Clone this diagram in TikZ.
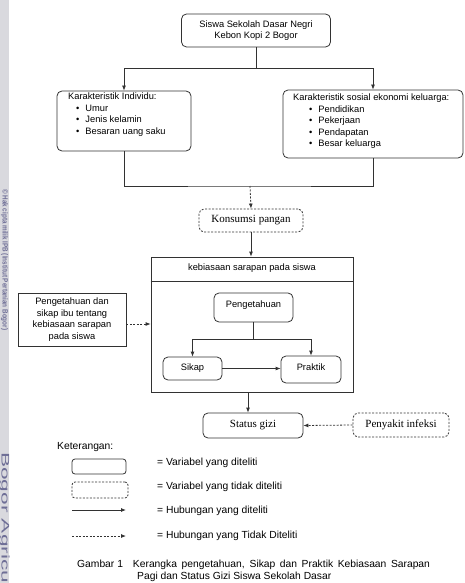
\documentclass[tikz,border=0pt]{standalone}
\usepackage{fontspec}
\setmainfont{Liberation Sans}
\newfontfamily\timesfont{Liberation Serif}
\usepackage{tikz}
\usetikzlibrary{arrows.meta}
\definecolor{wmgrey}{RGB}{217,217,222}
\definecolor{wmtext}{RGB}{110,110,150}
\definecolor{ink}{RGB}{50,50,50}

\begin{document}
\begin{tikzpicture}[x=1pt,y=-1pt,
  every node/.style={font=\fontsize{9.3}{11.5}\selectfont},
  var/.style={draw=ink,line width=0.8pt,rounded corners=5pt,inner sep=0pt},
  novar/.style={var,dash pattern=on 2pt off 1.5pt},
  plain/.style={draw=ink,line width=0.8pt,inner sep=0pt},
  rel/.style={draw=ink,line width=0.8pt,-{Latex[length=5pt,width=4pt]}},
  norel/.style={rel,dash pattern=on 2pt off 1.5pt},
  legend/.style={anchor=west,inner sep=0pt,font=\fontsize{10.3}{12}\selectfont}]
\useasboundingbox (0,0) rectangle (464,583);
\fill[wmgrey] (0,0) rectangle (9,583);
\node[rotate=-90,anchor=west,inner sep=0pt,text=wmtext,font=\bfseries] (wmA) at (4.5,189) {\resizebox{141pt}{5.5pt}{\textcopyright\ Hak cipta milik IPB (Institut Pertanian Bogor)}};
\node[rotate=-90,anchor=west,inner sep=0pt,text=wmtext] (wmB) at (4.5,452) {\resizebox{131pt}{8pt}{Bogor Agricu}};

\node[var,minimum width=149,minimum height=33,align=center] (siswa) at (256,30.5) {Siswa Sekolah Dasar Negri\\Kebon Kopi 2 Bogor};
\node[var,minimum width=134,minimum height=60] (indiv) at (124,121) {};
\node[anchor=north west,inner sep=0pt,align=left] (indivtxt) at (68,93) {Karakteristik Individu:\\
  \hspace{8pt}\textbullet\hspace{6pt}Umur\\
  \hspace{8pt}\textbullet\hspace{6pt}Jenis kelamin\\
  \hspace{8pt}\textbullet\hspace{6pt}Besaran uang saku};
\node[var,minimum width=180,minimum height=68] (sosial) at (373,124) {};
\node[anchor=north west,inner sep=0pt,align=left] (sosialtxt) at (293,94) {Karakteristik sosial ekonomi keluarga:\\
  \hspace{16pt}\textbullet\hspace{6pt}Pendidikan\\
  \hspace{16pt}\textbullet\hspace{6pt}Pekerjaan\\
  \hspace{16pt}\textbullet\hspace{6pt}Pendapatan\\
  \hspace{16pt}\textbullet\hspace{6pt}Besar keluarga};

\draw[rel] (siswa.south) -- ++(0,21.5) -| (indiv.north);
\draw[rel] (siswa.south) -- ++(0,21.5) -| (sosial.north);
\coordinate (join) at (250,186);
\draw[draw=ink,line width=0.8pt] (indiv.south) |- (join) -| (sosial.south);

\node[novar,minimum width=104,minimum height=23,font=\timesfont\fontsize{11}{12}\selectfont] (konsumsi) at (251,220.5) {Konsumsi pangan};
\draw[norel] (join) -- (konsumsi.north);

\node[plain,minimum width=202,minimum height=135] (kebiasaan) at (252,324.5) {};
\draw[draw=ink,line width=0.8pt] ([yshift=-25]kebiasaan.north west) -- ([yshift=-25]kebiasaan.north east);
\node (kebiasaantxt) at (252,268.5) {kebiasaan sarapan pada siswa};
\draw[rel] (konsumsi.south) -- (kebiasaan.north -| konsumsi.south);

\node[plain,minimum width=108,minimum height=53,align=center] (ibu) at (72,319.5) {Pengetahuan dan\\sikap ibu tentang\\kebiasaan sarapan\\pada siswa};
\draw[norel] ([yshift=-4.5]ibu.east) -- ([yshift=-4.5]ibu.east -| kebiasaan.west);

\node[var,minimum width=79,minimum height=29,text depth=6pt] (peng) at (253.5,307.5) {Pengetahuan};
\node[var,minimum width=59,minimum height=23,text depth=3pt] (sikap) at (192.5,368.5) {Sikap};
\node[var,minimum width=60,minimum height=27,text depth=4pt] (praktik) at (311,369.5) {Praktik};
\draw[rel] (peng.south) -- ++(0,17) -| (sikap.north);
\draw[rel] (peng.south) -- ++(0,17) -| (praktik.north);
\draw[rel] (sikap.east) -- (sikap.east -| praktik.west);

\node[var,minimum width=100,minimum height=25,font=\timesfont\fontsize{11}{12}\selectfont] (status) at (253,425.5) {Status gizi};
\node[novar,minimum width=96,minimum height=24,font=\timesfont\fontsize{11}{12}\selectfont] (infeksi) at (401,425) {Penyakit infeksi};
\draw[rel] (kebiasaan.south -| 248,0) -- (status.north -| 248,0);
\draw[norel] (infeksi.west) -- (status.east);

\node[legend] (ket) at (57,447) {Keterangan:};
\node[var,rounded corners=3pt,minimum width=54,minimum height=15] (lgvar) at (99,466.5) {};
\node[novar,rounded corners=3pt,minimum width=56,minimum height=16] (lgnovar) at (100,490) {};
\coordinate (lgrelA) at (72,510);
\coordinate (lgrelB) at (126,510);
\coordinate (lgnorelA) at (72,536);
\coordinate (lgnorelB) at (126,536);
\draw[rel] (lgrelA) -- (lgrelB);
\draw[norel] (lgnorelA) -- (lgnorelB);
\node[legend] (lgvartxt) at (157,463) {= Variabel yang diteliti};
\node[legend] (lgnovartxt) at (157,487) {= Variabel yang tidak diteliti};
\node[legend] (lgreltxt) at (157,511) {= Hubungan yang diteliti};
\node[legend] (lgnoreltxt) at (157,536) {= Hubungan yang Tidak Diteliti};

\node[legend,align=left] (caption) at (77,571) {Gambar 1\hspace{10pt}\makebox[297pt][s]{Kerangka pengetahuan, Sikap dan Praktik Kebiasaan Sarapan}\\
  \hspace{60pt}Pagi dan Status Gizi Siswa Sekolah Dasar};
\end{tikzpicture}
\end{document}
